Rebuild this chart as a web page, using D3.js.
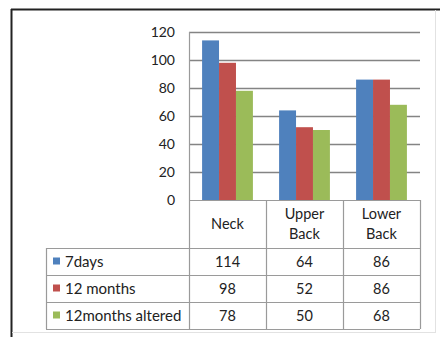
<!DOCTYPE html>
<html>
<head>
<meta charset="utf-8">
<script src="https://cdn.jsdelivr.net/npm/d3@7/dist/d3.min.js"></script>
<style>
  html, body { margin: 0; padding: 0; background: #fff; }
  svg { display: block; }
  text { font-family: Lato, "Open Sans", sans-serif; fill: #222; }
</style>
</head>
<body>
<svg id="chart" width="440" height="337"></svg>
<script>
// Pain prevalence by body region
const categories = ["Neck", "Upper Back", "Lower Back"];
const seriesNames = ["7days", "12 months", "12months altered"];
const sevenDays = [114, 64, 86];
const twelveMonths = [98, 52, 86];
const twelveMonthsAltered = [78, 50, 68];
const yTicks = [0, 20, 40, 60, 80, 100, 120];
const colors = ["#4F81BD", "#C0504D", "#9BBB59"];

const seriesValues = [sevenDays, twelveMonths, twelveMonthsAltered];

const svg = d3.select("#chart");

// Layout
const plotLeft = 189, plotRight = 420, plotTop = 32, plotBottom = 200;
const tableLeft = 46;
const headerBottom = 248, rowH = 27;

const x0 = d3.scaleBand().domain(categories).range([plotLeft, plotRight]).padding(0);
const groupPad = x0.bandwidth() * 0.17;
const x1 = d3.scaleBand().domain(seriesNames).range([groupPad, x0.bandwidth() - groupPad]).padding(0);
const y = d3.scaleLinear().domain([0, 120]).range([plotBottom, plotTop]);

// Outer frame
svg.append("line").attr("x1", 11).attr("x2", 440).attr("y1", 9.5).attr("y2", 9.5)
  .attr("stroke", "#222").attr("stroke-width", 2);
svg.append("line").attr("x1", 11.5).attr("x2", 11.5).attr("y1", 9).attr("y2", 337)
  .attr("stroke", "#222").attr("stroke-width", 2);
svg.append("line").attr("x1", 435.5).attr("x2", 435.5).attr("y1", 10).attr("y2", 332)
  .attr("stroke", "#e2e2e2").attr("stroke-width", 1);
svg.append("line").attr("x1", 12).attr("x2", 436).attr("y1", 332.5).attr("y2", 332.5)
  .attr("stroke", "#e2e2e2").attr("stroke-width", 1);

// Gridlines
svg.append("g").selectAll("line").data(yTicks.filter(d => d > 0)).join("line")
  .attr("x1", plotLeft).attr("x2", plotRight)
  .attr("y1", d => Math.round(y(d)) + 0.5).attr("y2", d => Math.round(y(d)) + 0.5)
  .attr("stroke", "#848484").attr("stroke-width", 1.3);

// Y axis
const yAxis = d3.axisLeft(y).tickValues(yTicks).tickSize(0).tickPadding(14);
const gy = svg.append("g").attr("transform", `translate(${plotLeft},0)`).call(yAxis);
gy.select(".domain").remove();
gy.selectAll("text").attr("font-size", 14).attr("font-family", "Lato, sans-serif").attr("fill", "#222");

// Bars
const groups = svg.append("g").selectAll("g").data(categories).join("g")
  .attr("transform", d => `translate(${x0(d)},0)`);
groups.selectAll("rect")
  .data((c, ci) => seriesNames.map((s, si) => ({ s, si, v: seriesValues[si][ci] })))
  .join("rect")
  .attr("x", d => x1(d.s))
  .attr("width", x1.bandwidth())
  .attr("y", d => y(d.v))
  .attr("height", d => y(0) - y(d.v))
  .attr("fill", d => colors[d.si]);

// Data table
const tableBottom = headerBottom + rowH * seriesNames.length;
const gridColor = "#9a9a9a";
const t = svg.append("g");

// vertical lines
const colEdges = [plotLeft, ...categories.map(c => x0(c) + x0.bandwidth())];
t.selectAll(".vcol").data(colEdges).join("line")
  .attr("x1", d => Math.round(d) + 0.5).attr("x2", d => Math.round(d) + 0.5)
  .attr("y1", (d, i) => i === 0 ? plotTop : plotBottom).attr("y2", tableBottom)
  .attr("stroke", gridColor).attr("stroke-width", 1.2);
t.append("line").attr("x1", tableLeft + 0.5).attr("x2", tableLeft + 0.5)
  .attr("y1", headerBottom).attr("y2", tableBottom)
  .attr("stroke", gridColor).attr("stroke-width", 1.2);

// horizontal lines
t.append("line").attr("x1", plotLeft).attr("x2", plotRight)
  .attr("y1", plotBottom + 0.5).attr("y2", plotBottom + 0.5)
  .attr("stroke", gridColor).attr("stroke-width", 1.2);
const rowLines = d3.range(seriesNames.length + 1).map(i => headerBottom + i * rowH);
t.selectAll(".hrow").data(rowLines).join("line")
  .attr("x1", tableLeft).attr("x2", plotRight)
  .attr("y1", d => d + 0.5).attr("y2", d => d + 0.5)
  .attr("stroke", gridColor).attr("stroke-width", 1.2);

// category headers
const headerMid = (plotBottom + headerBottom) / 2;
categories.forEach(c => {
  const words = c.split(" ");
  const cx = x0(c) + x0.bandwidth() / 2;
  const txt = t.append("text").attr("text-anchor", "middle").attr("font-size", 14.5);
  words.forEach((w, i) => {
    txt.append("tspan").attr("x", cx)
      .attr("y", headerMid + 5 + (i - (words.length - 1) / 2) * 20)
      .text(w);
  });
});

// rows: legend keys, names and values
seriesNames.forEach((s, si) => {
  const rowMid = headerBottom + si * rowH + rowH / 2;
  t.append("rect").attr("x", 53).attr("y", rowMid - 4).attr("width", 7).attr("height", 7)
    .attr("fill", colors[si]);
  t.append("text").attr("x", 65).attr("y", rowMid + 5).attr("font-size", 15).text(s);
  categories.forEach((c, ci) => {
    t.append("text").attr("x", x0(c) + x0.bandwidth() / 2).attr("y", rowMid + 5)
      .attr("text-anchor", "middle").attr("font-size", 14.5)
      .text(seriesValues[si][ci]);
  });
});
</script>
</body>
</html>
